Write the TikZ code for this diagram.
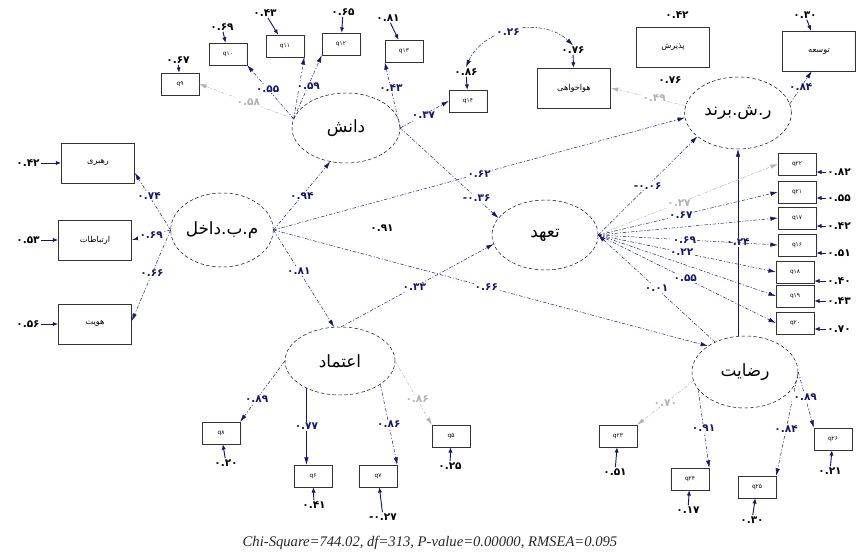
\documentclass[tikz,border=0pt]{standalone}
\usepackage{fontspec}
\setmainfont{Liberation Serif}
\newfontfamily\fa[Script=Arabic]{DejaVu Sans}
\newfontfamily\dv{DejaVu Sans}
\TeXXeTstate=1
\usetikzlibrary{arrows.meta,shapes.geometric}
\definecolor{semdark}{RGB}{22,22,110}
\newcommand{\fw}[1]{\beginR #1\endR}
\newcommand{\mn}{{\dv\bfseries -}}

\begin{document}
\begin{tikzpicture}[x=0.03cm, y=-0.03cm,
    fac/.style={draw, densely dashed, ellipse, inner sep=0pt, font=\fa\Large},
    big/.style={draw, black!80, text=black, minimum width=2.2cm, minimum height=1.2cm, font=\fa\scriptsize},
    ind/.style={draw, black!80, text=black, minimum width=1.14cm, minimum height=0.66cm, font=\fa\tiny},
    num/.style={font=\fa\bfseries\small, fill=white, inner sep=1pt},
    ld/.style={semdark, dash pattern=on 3pt off 1.5pt on 1pt off 1.5pt, -{Latex[length=2.2mm,width=1.3mm]}},
    ldg/.style={ld, black!30},
    lds/.style={ld, solid},
    err/.style={semdark, thick, -{Latex[length=1.6mm,width=1.3mm]}}]

  \useasboundingbox (0,0) rectangle (858,558);
  \clip (0,0) rectangle (858,558);

  %% ===== latent variables =====
  \node[fac, minimum width=2.85cm, minimum height=2.22cm] (mbd) at (222,230) {\fw{م.ب.داخل}};
  \node[fac, minimum width=3.24cm, minimum height=2.1cm] (dan) at (346,128) {\fw{دانش}};
  \node[fac, minimum width=3.18cm, minimum height=2.1cm] (tah) at (545,235) {\fw{تعهد}};
  \node[fac, minimum width=3.3cm, minimum height=2.04cm] (etm) at (340,361) {\fw{اعتماد}};
  \node[fac, minimum width=3.2cm, minimum height=2.16cm] (rsb) at (738,113) {\fw{ر.ش.برند}};
  \node[fac, minimum width=3.18cm, minimum height=2.16cm] (rez) at (745,372) {\fw{رضایت}};

  %% ===== large indicator boxes =====
  \node[big] (rah) at (98,163) {\fw{رهبری}};
  \node[big] (ert) at (95,240) {\fw{ارتباطات}};
  \node[big] (hov) at (95,324) {\fw{هویت}};
  \node[big] (hav) at (574,88) {\fw{هواخواهی}};
  \node[big] (paz) at (673,47) {\fw{پذیرش}};
  \node[big] (tow) at (819,51) {\fw{توسعه}};

  %% ===== small indicator boxes =====
  % knowledge
  \node[ind] (q9) at (180,84) {q۹};
  \node[ind] (q10) at (228,54) {q۱۰};
  \node[ind] (q11) at (285,46) {q۱۱};
  \node[ind] (q12) at (341,44) {q۱۲};
  \node[ind] (q13) at (404,51) {q۱۳};
  \node[ind] (q14) at (468,101) {q۱۴};
  % commitment
  \node[ind] (q22) at (797,164) {q۲۲};
  \node[ind] (q21) at (797,192) {q۲۱};
  \node[ind] (q17) at (797,218) {q۱۷};
  \node[ind] (q16) at (797,245) {q۱۶};
  \node[ind] (q18) at (795,272) {q۱۸};
  \node[ind] (q19) at (795,296) {q۱۹};
  \node[ind] (q20) at (795,323) {q۲۰};
  % trust
  \node[ind] (q8) at (221,433) {q۸};
  \node[ind] (q6) at (313,476) {q۶};
  \node[ind] (q7) at (378,476) {q۷};
  \node[ind] (q5) at (451,436) {q۵};
  % satisfaction
  \node[ind] (q23) at (618,436) {q۲۳};
  \node[ind] (q24) at (690,479) {q۲۴};
  \node[ind] (q25) at (757,487) {q۲۵};
  \node[ind] (q26) at (833,439) {q۲۶};

  %% ===== error terms =====
  \node[num] (erah) at (28,163) {۰.۴۲};
  \node[num] (eert) at (28,240) {۰.۵۳};
  \node[num] (ehov) at (28,324) {۰.۵۶};
  \node[num] (e9) at (178,60) {۰.۶۷};
  \node[num] (e10) at (222,27) {۰.۶۹};
  \node[num] (e11) at (265,13) {۰.۴۳};
  \node[num] (e12) at (343,12) {۰.۶۵};
  \node[num] (e13) at (388,18) {۰.۸۱};
  \node[num] (e14) at (466,72) {۰.۸۶};
  \node[num] (ehav) at (573,50) {۰.۷۶};
  \node[num] (epaz) at (677,15) {۰.۴۲};
  \node[num] (etow) at (805,15) {۰.۳۰};
  \node[num, anchor=west] (e22) at (826,172) {۰.۸۲};
  \node[num, anchor=west] (e21) at (826,198) {۰.۵۵};
  \node[num, anchor=west] (e17) at (826,226) {۰.۴۲};
  \node[num, anchor=west] (e16) at (826,253) {۰.۵۱};
  \node[num, anchor=west] (e18) at (826,281) {۰.۴۰};
  \node[num, anchor=west] (e19) at (826,301) {۰.۴۳};
  \node[num, anchor=west] (e20) at (826,329) {۰.۷۰};
  \node[num] (e8) at (226,463) {۰.۲۰};
  \node[num] (e6) at (314,505) {۰.۴۱};
  \node[num] (e7) at (383,517) {\mn۰.۲۷};
  \node[num] (e5) at (450,466) {۰.۲۵};
  \node[num] (e23) at (615,472) {۰.۵۱};
  \node[num] (e24) at (688,510) {۰.۱۷};
  \node[num] (e25) at (752,520) {۰.۳۰};
  \node[num] (e26) at (830,471) {۰.۲۱};

  \draw[err] (erah) -- (rah);
  \draw[err] (eert) -- (ert);
  \draw[err] (ehov) -- (hov);
  \foreach \e/\q in {e9/q9, e10/q10, e11/q11, e12/q12, e13/q13, e14/q14, ehav/hav, etow/tow}
    \draw[err] (\e) -- (\q);
  \foreach \e/\q in {e22/q22, e21/q21, e17/q17, e16/q16, e18/q18, e19/q19, e20/q20}
    \draw[err] (\e.west) -- (\e.west -| \q.east);
  \foreach \e/\q in {e8/q8, e6/q6, e7/q7, e5/q5, e23/q23, e24/q24, e25/q25, e26/q26}
    \draw[err] (\e) -- (\q);

  % correlated errors
  \draw[semdark, dash pattern=on 3pt off 1.5pt on 1pt off 1.5pt, {Latex[length=2.2mm,width=1.3mm]}-{Latex[length=2.2mm,width=1.3mm]}]
    (e14.north) to[bend left=55] node[num, pos=.45] {۰.۲۶} (ehav.north);

  %% ===== structural paths =====
  \draw[ld] (mbd.east) -- node[num, pos=.5] {۰.۹۴} (dan.245);
  \draw[ld] (mbd.east) -- node[num, pos=.5] {۰.۶۲} (rsb.185);
  \draw[ld] (mbd.east) -- node[num, pos=.42] {۰.۸۱} (etm.100);
  \draw[ld] (mbd.east) -- node[num, pos=.49] {۰.۶۶} (rez.145);
  \node[num] (l91) at (382,228) {۰.۹۱};
  \draw[ld] (dan.east) -- node[num, pos=.78] {\mn۰.۳۶} (tah.160);
  \draw[ld] (etm.88) -- node[num, pos=.48] {۰.۳۳} (tah.190);
  \draw[ld] (tah.east) -- node[num, pos=.5] {\mn۰.۰۶} (rsb.210);
  \draw[ld] (rez.135) -- node[num, pos=.5] {۰.۰۱} (tah.east);
  \draw[lds] (rsb.south |- rez.north) -- node[num, pos=.5] {۰.۲۴} (rsb.south);

  %% ===== loadings =====
  % internal brand management
  \draw[ld] (mbd.west) -- node[num, pos=.6] {۰.۷۴} (rah.345);
  \draw[ld] (mbd.west) -- node[num, pos=.5] {۰.۶۹} (ert.east);
  \draw[ld] (mbd.west) -- node[num, pos=.48] {۰.۶۶} (hov.5);
  % knowledge
  \draw[ldg] (dan.170) -- node[num, pos=.48] {۰.۵۸} (q9.east);
  \draw[ld] (dan.170) -- node[num, pos=.56] {۰.۵۵} (q10.south east);
  \draw[ld] (dan.170) -- (q11.south east);
  \draw[ld] (dan.170) -- node[num, pos=.52] {۰.۵۹} (q12.south west);
  \draw[ld] (dan.east) -- node[num, pos=.6] {۰.۴۳} (q13.south west);
  \draw[ld] (dan.east) -- node[num, pos=.48] {۰.۳۷} (q14.west);
  % brand
  \draw[ldg] (rsb.172) -- node[num, pos=.42] {۰.۴۹} (hav.east);
  \node[num] (l76) at (670,80) {۰.۷۶};
  \draw[ld] (rsb.10) -- node[num, pos=.5] {۰.۸۴} (tow.250);
  % commitment
  \draw[ldg] (tah.east) -- node[num, pos=.45] {۰.۲۷} (q22.west);
  \draw[ld] (tah.east) -- node[num, pos=.46] {۰.۶۷} (q21.west);
  \draw[ld] (tah.east) -- (q17.west);
  \draw[ld] (tah.east) -- node[num, pos=.48] {۰.۶۹} (q16.west);
  \draw[ld] (tah.east) -- node[num, pos=.47] {۰.۲۲} (q18.west);
  \draw[ld] (tah.east) -- (q19.west);
  \draw[ld] (tah.east) -- node[num, pos=.49] {۰.۵۵} (q20.west);
  % trust
  \draw[ld] (etm.west) -- node[num, pos=.63] {۰.۸۹} (q8.north east);
  \draw[lds] (etm.219) -- node[num, pos=.5] {۰.۷۷} (etm.219 |- q6.north);
  \draw[ld] (etm.330) -- node[num, pos=.5] {۰.۸۶} (q7.north east);
  \draw[ldg] (etm.east) -- node[num, pos=.6] {۰.۸۶} (q5.north west);
  % satisfaction
  \draw[ldg] (rez.190) -- node[num, pos=.5] {۰.۷۰} (q23.north east);
  \draw[ld] (rez.200) -- node[num, pos=.5] {۰.۹۱} (q24.north east);
  \draw[ld] (rez.east) -- node[num, pos=.55] {۰.۸۴} (q25.north east);
  \draw[ld] (rez.east) -- node[num, pos=.45] {۰.۸۹} (q26.north west);

  % fit statistics
  \node[font=\itshape\fontsize{12.5}{14}\selectfont, text=black!85] (fit) at (430,543)
    {Chi-Square=744.02, df=313, P-value=0.00000, RMSEA=0.095};

\end{tikzpicture}
\end{document}
